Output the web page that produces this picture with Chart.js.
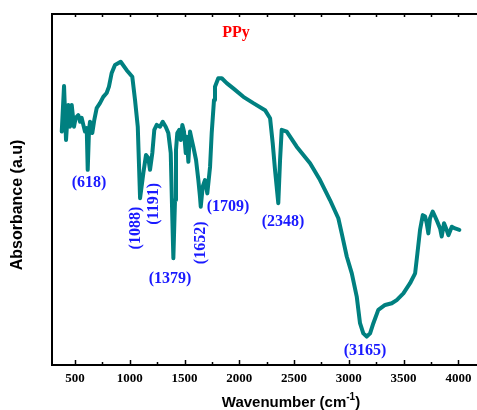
<!DOCTYPE html>
<html>
<head>
<meta charset="utf-8">
<script src="https://cdn.jsdelivr.net/npm/chart.js@4/dist/chart.umd.min.js"></script>
<style>
  html, body { margin: 0; padding: 0; background: #fff; }
  canvas { display: block; }
</style>
</head>
<body>
<canvas id="ftirChart" width="477" height="410"></canvas>
<script>
// FTIR spectrum of PPy
const wavenumbers = [
    379, 400, 418, 439, 454, 470, 491, 506, 530, 546, 561, 576, 591, 607, 616, 628, 637, 658, 676, 698,
    728, 758, 789, 810, 835, 865, 917, 972, 1023, 1048, 1073, 1094, 1124, 1148, 1169, 1185, 1206, 1224,
    1246, 1276, 1301, 1328, 1352, 1374, 1388, 1398, 1413, 1422, 1434, 1452, 1465, 1480, 1495, 1511, 1520,
    1535, 1550, 1566, 1580, 1605, 1626, 1641, 1648, 1666, 1687, 1708, 1733, 1748, 1769, 1778, 1808, 1840,
    1885, 1945, 2037, 2128, 2235, 2281, 2305, 2326, 2356, 2372, 2387, 2433, 2524, 2646, 2737, 2828, 2904,
    2935, 2981, 3027, 3072, 3102, 3132, 3163, 3194, 3224, 3269, 3331, 3392, 3437, 3498, 3559, 3605, 3626,
    3650, 3675, 3696, 3711, 3726, 3741, 3766, 3787, 3808, 3833, 3848, 3869, 3888, 3909, 3940, 3970, 4009
];
const absorbance = [
    66.5, 79.5, 64.1, 74.1, 67.9, 74.1, 67.9, 70.4, 71.2, 69.3, 70.4, 68.4, 66.5, 67.5, 55.6, 67.0, 69.3, 66.1, 69.8, 73.2,
    74.6, 76.4, 77.5, 79.3, 83.2, 85.5, 86.4, 84.0, 82.1, 75.5, 67.9, 47.5, 54.7, 59.8, 59.0, 55.6, 60.4, 67.0,
    68.4, 67.9, 69.3, 67.9, 66.1, 60.4, 42.3, 30.4, 47.0, 61.3, 66.1, 67.0, 64.1, 68.4, 66.5, 60.4, 65.0,
    57.9, 66.5, 64.1, 62.2, 58.4, 52.7, 47.9, 45.1, 50.8, 52.7, 48.9, 56.5, 66.1, 75.5, 79.3, 81.7, 81.7,
    80.3, 78.8, 76.4, 74.6, 72.6, 70.3, 63.2, 55.6, 46.1, 58.4, 67.0, 66.5, 62.2, 57.5, 52.7, 47.0, 41.8,
    37.5, 30.9, 26.1, 19.5, 11.9, 9.0, 8.1, 9.0, 11.9, 15.7, 17.1, 17.6, 18.5, 20.4, 23.3, 26.1, 31.8,
    38.5, 42.7, 42.3, 40.4, 37.5, 41.8, 43.7, 42.3, 40.8, 38.9, 36.6, 40.4, 38.9, 37.0, 39.4, 38.9, 38.5
];
const xTickLabels = [500, 1000, 1500, 2000, 2500, 3000, 3500, 4000];
const peakLabels = ['(618)', '(1088)', '(1191)', '(1379)', '(1652)', '(1709)', '(2348)', '(3165)'];
const sampleName = 'PPy';
const xTitle = 'Wavenumber (cm';
const xTitleSup = '-1';
const yTitle = 'Absorbance (a.u)';

// where each peak label sits, in data units (wavenumber, absorbance) and its rotation
const peakPlacement = [
    { x: 628, y: 51.9, rot: 0 },
    { x: 1057, y: 39.0, rot: -90 },
    { x: 1221, y: 45.9, rot: -90 },
    { x: 1367, y: 24.5, rot: 0 },
    { x: 1650, y: 34.8, rot: -90 },
    { x: 1897, y: 45.0, rot: 0 },
    { x: 2399, y: 40.7, rot: 0 },
    { x: 3148, y: 4.0, rot: 0 }
];

const serif = '"Liberation Serif", "Times New Roman", serif';
const sans = '"Liberation Sans", Arial, sans-serif';

// frame, ticks, labels and titles drawn from the chart's own scales
const decorations = {
    id: 'decorations',
    afterDraw(chart) {
        const { ctx, chartArea: a, scales: { x, y } } = chart;
        ctx.save();

        // axes box (left, top, bottom)
        ctx.strokeStyle = '#000';
        ctx.lineWidth = 2;
        ctx.beginPath();
        ctx.moveTo(a.left, a.top);
        ctx.lineTo(a.right, a.top);
        ctx.moveTo(a.left, a.top - 1);
        ctx.lineTo(a.left, a.bottom + 1);
        ctx.moveTo(a.left, a.bottom);
        ctx.lineTo(a.right, a.bottom);
        ctx.stroke();

        // inward ticks, major every 500, minor every 250
        ctx.lineWidth = 1.5;
        ctx.beginPath();
        for (let v = 500; v <= 4000; v += 250) {
            const px = Math.round(x.getPixelForValue(v)) + 0.5;
            const major = v % 500 === 0;
            ctx.moveTo(px, a.bottom);
            ctx.lineTo(px, a.bottom - (major ? 5 : 3));
            ctx.moveTo(px, a.top);
            ctx.lineTo(px, a.top + 3);
        }
        ctx.stroke();

        // tick labels
        ctx.fillStyle = '#000';
        ctx.font = 'bold 13px ' + serif;
        ctx.textAlign = 'center';
        ctx.textBaseline = 'middle';
        xTickLabels.forEach(v => {
            ctx.fillText(String(v), x.getPixelForValue(v), a.bottom + 14);
        });

        // x title with superscript
        const bigFont = 'bold 15px ' + sans;
        const smallFont = 'bold 10px ' + sans;
        ctx.font = bigFont;
        const w1 = ctx.measureText(xTitle).width;
        const w3 = ctx.measureText(')').width;
        ctx.font = smallFont;
        const w2 = ctx.measureText(xTitleSup).width;
        const total = w1 + w2 + w3;
        const cx = 291;
        let tx = cx - total / 2;
        const baseY = 407;
        ctx.textAlign = 'left';
        ctx.textBaseline = 'alphabetic';
        ctx.font = bigFont;
        ctx.fillText(xTitle, tx, baseY);
        tx += w1;
        ctx.font = smallFont;
        ctx.fillText(xTitleSup, tx, baseY - 7);
        tx += w2;
        ctx.font = bigFont;
        ctx.fillText(')', tx, baseY);

        // y title
        ctx.save();
        ctx.translate(18, 205);
        ctx.rotate(-Math.PI / 2);
        ctx.font = 'bold 16px ' + sans;
        ctx.textAlign = 'center';
        ctx.textBaseline = 'middle';
        ctx.fillText(yTitle, 0, 0);
        ctx.restore();

        // sample name
        ctx.fillStyle = '#ff0000';
        ctx.font = 'bold 16px ' + serif;
        ctx.textAlign = 'center';
        ctx.textBaseline = 'middle';
        ctx.fillText(sampleName, x.getPixelForValue(1970), y.getPixelForValue(94.6));

        // peak labels
        ctx.fillStyle = '#1a1aff';
        peakLabels.forEach((label, i) => {
            const p = peakPlacement[i];
            ctx.save();
            ctx.translate(x.getPixelForValue(p.x), y.getPixelForValue(p.y));
            ctx.rotate(p.rot * Math.PI / 180);
            ctx.fillText(label, 0, 0);
            ctx.restore();
        });

        ctx.restore();
    }
};

const ctx = document.getElementById('ftirChart').getContext('2d');
new Chart(ctx, {
    type: 'line',
    data: {
        datasets: [{
            label: sampleName,
            data: wavenumbers.map((w, i) => ({ x: w, y: absorbance[i] })),
            borderColor: '#008080',
            borderWidth: 4,
            borderJoinStyle: 'round',
            borderCapStyle: 'round',
            pointRadius: 0,
            tension: 0,
            fill: false
        }]
    },
    options: {
        responsive: false,
        animation: false,
        parsing: false,
        layout: { padding: { left: 52, top: 14, right: 0, bottom: 45 } },
        plugins: {
            legend: { display: false },
            tooltip: { enabled: false }
        },
        scales: {
            x: { type: 'linear', min: 290, max: 4170, display: false },
            y: { min: 0, max: 100, display: false }
        }
    },
    plugins: [decorations]
});
</script>
</body>
</html>
